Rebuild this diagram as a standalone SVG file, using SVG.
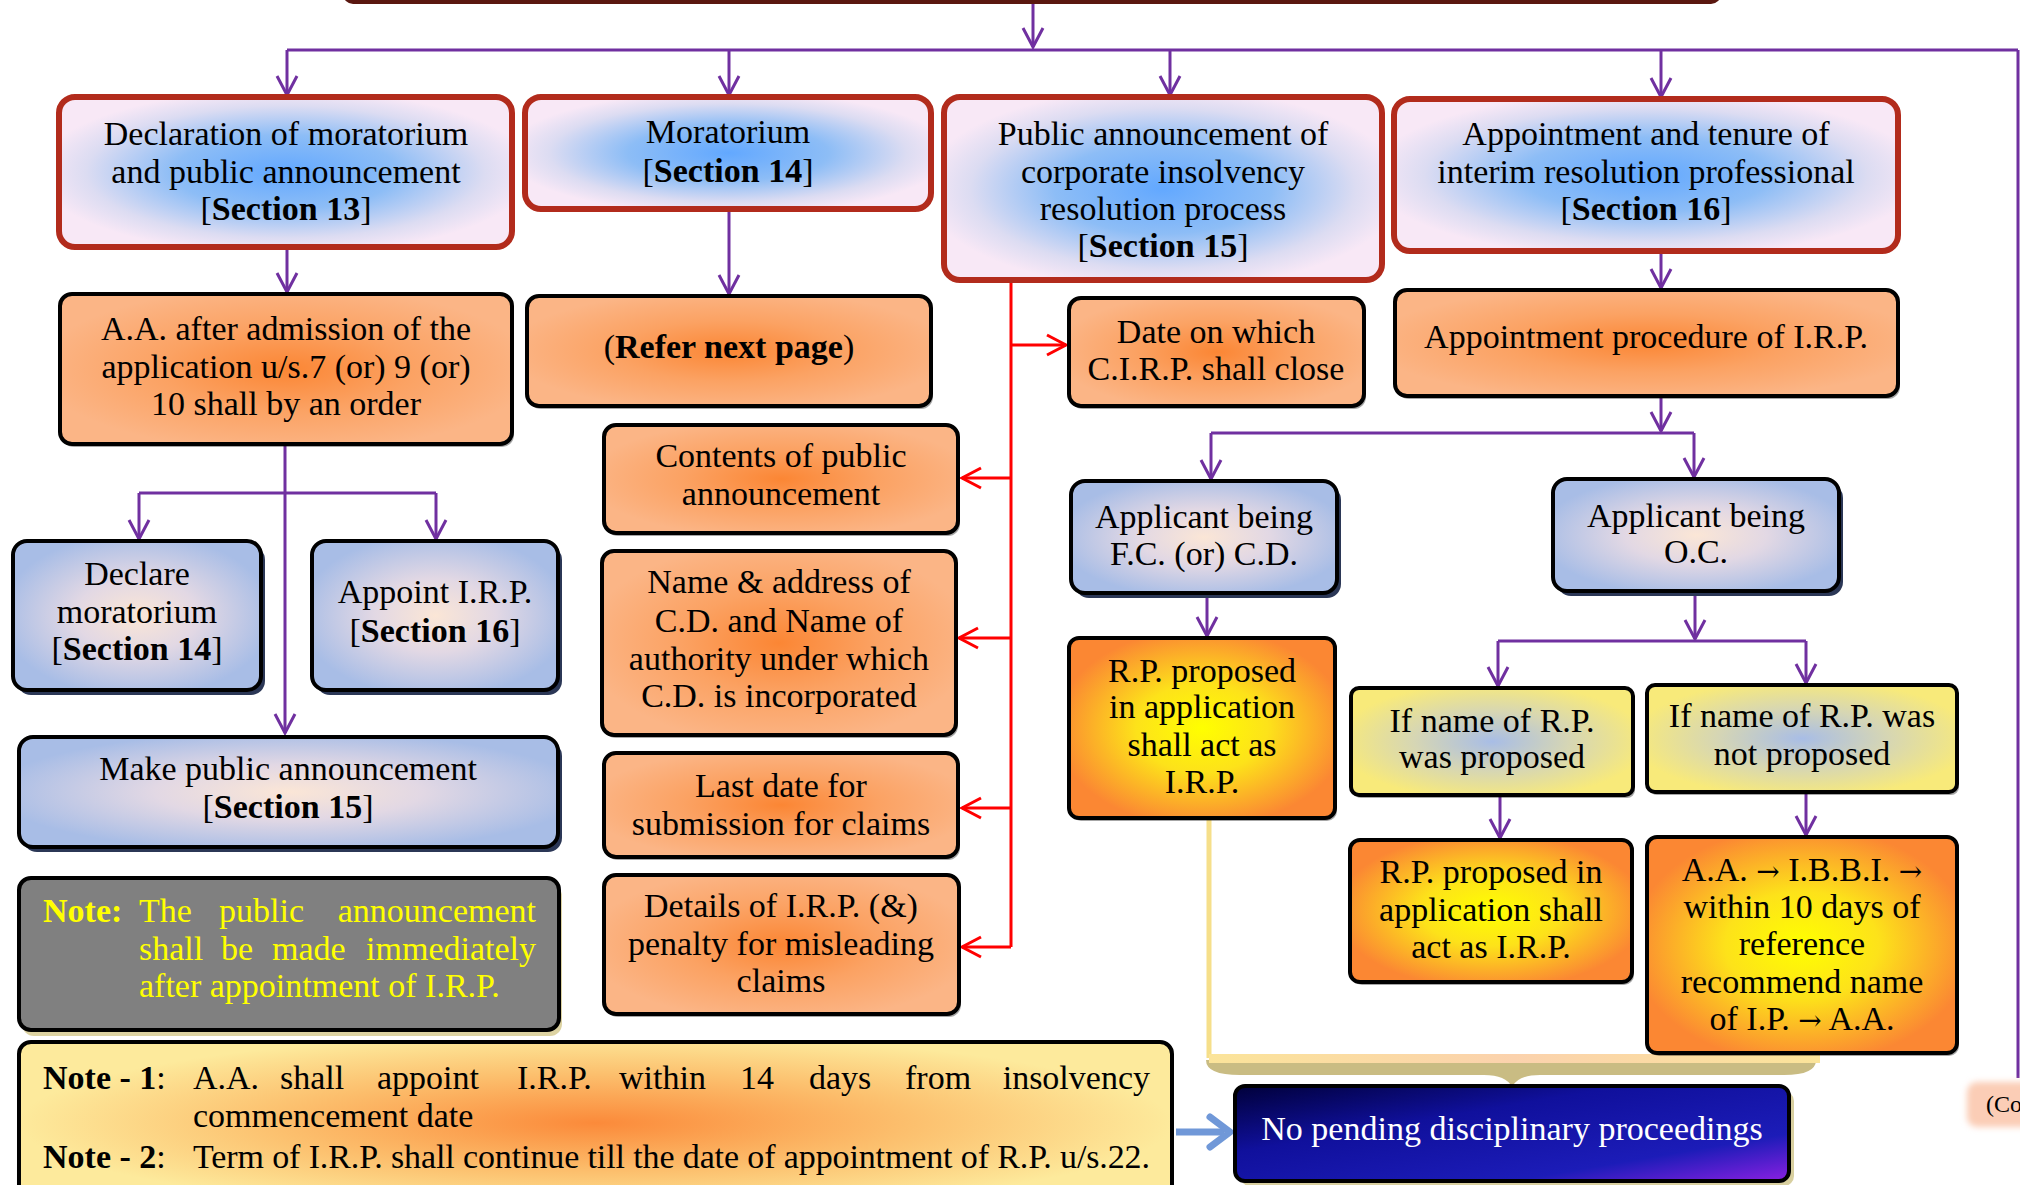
<svg xmlns="http://www.w3.org/2000/svg" width="2020" height="1185" viewBox="0 0 2020 1185">
  <defs>
    <style>
      .t { font-family: "Liberation Serif", "Times New Roman", serif; font-size: 34px; text-anchor: middle; fill: #000; }
      .s { text-anchor: start; }
      .e { text-anchor: end; }
      .b { font-weight: bold; }
      .ar { font-family: "DejaVu Serif", serif; font-size: 28px; }
      .yl { fill: #ffff00; }
      .wh { fill: #ffffff; }
      .red { stroke: #b22b1c; stroke-width: 6; }
      .blk { stroke: #000; stroke-width: 4; }
      .pc { stroke: #7030a0; stroke-width: 3; fill: none; }
      .rc { stroke: #ff0000; stroke-width: 3; fill: none; }
      .sh { fill: #000; opacity: 0.35; }
      .shb { fill: #2b3756; }
    </style>
    <radialGradient id="gRed" cx="50%" cy="50%" r="55%">
      <stop offset="0" stop-color="#62a8ff"/>
      <stop offset="0.45" stop-color="#8dbdf6"/>
      <stop offset="0.8" stop-color="#dcdcf2"/>
      <stop offset="1" stop-color="#f8e8f6"/>
    </radialGradient>
    <radialGradient id="gOr" cx="50%" cy="50%" r="55%">
      <stop offset="0" stop-color="#fb8634"/>
      <stop offset="0.5" stop-color="#fba263"/>
      <stop offset="1" stop-color="#fbb586"/>
    </radialGradient>
    <radialGradient id="gBl" cx="50%" cy="50%" r="55%">
      <stop offset="0" stop-color="#fbe6d6"/>
      <stop offset="0.45" stop-color="#e2d8e4"/>
      <stop offset="1" stop-color="#a8bde6"/>
    </radialGradient>
    <radialGradient id="gYe" cx="50%" cy="50%" r="55%">
      <stop offset="0" stop-color="#a8bde6"/>
      <stop offset="0.5" stop-color="#d6d6b4"/>
      <stop offset="1" stop-color="#f8ea7a"/>
    </radialGradient>
    <radialGradient id="gBr" cx="50%" cy="50%" r="55%">
      <stop offset="0" stop-color="#ffff00"/>
      <stop offset="0.45" stop-color="#fde21a"/>
      <stop offset="1" stop-color="#fb8733"/>
    </radialGradient>
    <radialGradient id="gNote" cx="50%" cy="45%" r="50%">
      <stop offset="0" stop-color="#fb8a3a"/>
      <stop offset="0.55" stop-color="#fcc06e"/>
      <stop offset="1" stop-color="#fdea9c"/>
    </radialGradient>
    <linearGradient id="gNav" x1="0" y1="0" x2="1" y2="1">
      <stop offset="0" stop-color="#00003a"/>
      <stop offset="0.35" stop-color="#10109c"/>
      <stop offset="0.75" stop-color="#1c1cb8"/>
      <stop offset="1" stop-color="#8a20e2"/>
    </linearGradient>
    <linearGradient id="gBand" x1="0" y1="0" x2="1" y2="0">
      <stop offset="0" stop-color="#fbe49a"/>
      <stop offset="0.5" stop-color="#fbd2ad"/>
      <stop offset="1" stop-color="#fbe49a"/>
    </linearGradient>
    <filter id="soft" x="-20%" y="-30%" width="140%" height="160%">
      <feGaussianBlur stdDeviation="3"/>
    </filter>
    <marker id="ahP" markerUnits="userSpaceOnUse" markerWidth="26" markerHeight="26" viewBox="0 0 26 26" refX="22" refY="13" orient="auto">
      <path d="M3,3 L22,13 L3,23" fill="none" stroke="#7030a0" stroke-width="3"/>
    </marker>
    <marker id="ahR" markerUnits="userSpaceOnUse" markerWidth="26" markerHeight="26" viewBox="0 0 26 26" refX="22" refY="13" orient="auto">
      <path d="M3,3 L22,13 L3,23" fill="none" stroke="#ff0000" stroke-width="3"/>
    </marker>
  </defs>

  <rect width="2020" height="1185" fill="#ffffff"/>

  <!-- header strip at the very top -->
  <g id="header">
    <rect x="343" y="-30" width="1378" height="34" rx="10" fill="#5a1710"/>
  </g>

  <!-- connectors -->
  <g id="connectors">
    <path class="pc" d="M1033,4 V47" marker-end="url(#ahP)"/>
    <path class="pc" d="M287,50 H2018" stroke-width="4"/>
    <path class="pc" d="M2018,50 V1078" stroke-width="2"/>
    <path class="pc" d="M287,50 V95" marker-end="url(#ahP)"/>
    <path class="pc" d="M729,50 V95" marker-end="url(#ahP)"/>
    <path class="pc" d="M1170,50 V95" marker-end="url(#ahP)"/>
    <path class="pc" d="M1661,50 V97" marker-end="url(#ahP)"/>
    <path class="pc" d="M287,247 V292" marker-end="url(#ahP)"/>
    <path class="pc" d="M729,209 V294" marker-end="url(#ahP)"/>
    <path class="pc" d="M1661,251 V288" marker-end="url(#ahP)"/>
    <path class="pc" d="M1661,396 V431" marker-end="url(#ahP)"/>
    <path class="pc" d="M1211,433 H1694"/>
    <path class="pc" d="M1211,433 V479" marker-end="url(#ahP)"/>
    <path class="pc" d="M1694,433 V477" marker-end="url(#ahP)"/>
    <path class="pc" d="M285,444 V733" marker-end="url(#ahP)"/>
    <path class="pc" d="M139,493 H436"/>
    <path class="pc" d="M139,493 V539" marker-end="url(#ahP)"/>
    <path class="pc" d="M436,493 V539" marker-end="url(#ahP)"/>
    <path class="pc" d="M1207,593 V636" marker-end="url(#ahP)"/>
    <path class="pc" d="M1695,591 V639" marker-end="url(#ahP)"/>
    <path class="pc" d="M1498,641 H1806"/>
    <path class="pc" d="M1498,641 V686" marker-end="url(#ahP)"/>
    <path class="pc" d="M1806,641 V683" marker-end="url(#ahP)"/>
    <path class="pc" d="M1500,795 V838" marker-end="url(#ahP)"/>
    <path class="pc" d="M1806,792 V835" marker-end="url(#ahP)"/>

    <path class="rc" d="M1011,280 V947"/>
    <path class="rc" d="M1011,345 H1066" marker-end="url(#ahR)"/>
    <path class="rc" d="M1011,478 H962" marker-end="url(#ahR)"/>
    <path class="rc" d="M1011,638 H959" marker-end="url(#ahR)"/>
    <path class="rc" d="M1011,808 H962" marker-end="url(#ahR)"/>
    <path class="rc" d="M1011,947 H962" marker-end="url(#ahR)"/>

    <!-- pale bracket joining the I.R.P. outcomes -->
    <path d="M1209,818 V1058" stroke="#f6df8a" stroke-width="5" fill="none"/>
    <path d="M1206,1060 Q1206,1075 1240,1075 L1484,1075 Q1506,1075 1512,1087 Q1518,1075 1540,1075 L1784,1075 Q1816,1075 1816,1060 Z" fill="#c9bc83"/>
    <rect x="1209" y="1054" width="611" height="9" fill="url(#gBand)"/>

    <!-- blue arrow from the notes -->
    <path d="M1176,1132 H1224" stroke="#7098d8" stroke-width="7" fill="none"/>
    <path d="M1210,1117 L1230,1132 L1210,1147" stroke="#7098d8" stroke-width="7" fill="none" stroke-linecap="round" stroke-linejoin="round"/>
  </g>

  <!-- section heads -->
  <g id="n-sec13">
    <rect class="red" x="59" y="97" width="453" height="150" rx="16" fill="url(#gRed)"/>
    <text class="t" x="286" y="145">Declaration of moratorium</text>
    <text class="t" x="286" y="183">and public announcement</text>
    <text class="t" x="286" y="220">[<tspan class="b">Section 13</tspan>]</text>
  </g>
  <g id="n-sec14">
    <rect class="red" x="525" y="97" width="406" height="112" rx="16" fill="url(#gRed)"/>
    <text class="t" x="728" y="143">Moratorium</text>
    <text class="t" x="728" y="182">[<tspan class="b">Section 14</tspan>]</text>
  </g>
  <g id="n-sec15">
    <rect class="red" x="944" y="97" width="438" height="183" rx="16" fill="url(#gRed)"/>
    <text class="t" x="1163" y="145">Public announcement of</text>
    <text class="t" x="1163" y="183">corporate insolvency</text>
    <text class="t" x="1163" y="220">resolution process</text>
    <text class="t" x="1163" y="257">[<tspan class="b">Section 15</tspan>]</text>
  </g>
  <g id="n-sec16">
    <rect class="red" x="1394" y="99" width="504" height="152" rx="16" fill="url(#gRed)"/>
    <text class="t" x="1646" y="145">Appointment and tenure of</text>
    <text class="t" x="1646" y="183">interim resolution professional</text>
    <text class="t" x="1646" y="220">[<tspan class="b">Section 16</tspan>]</text>
  </g>

  <!-- second row -->
  <g id="n-order">
    <rect class="sh" x="62" y="297" width="452" height="150" rx="12"/>
    <rect class="blk" x="60" y="294" width="452" height="150" rx="12" fill="url(#gOr)"/>
    <text class="t" x="286" y="340">A.A. after admission of the</text>
    <text class="t" x="286" y="378">application u/s.7 (or) 9 (or)</text>
    <text class="t" x="286" y="415">10 shall by an order</text>
  </g>
  <g id="n-refer">
    <rect class="sh" x="529" y="299" width="404" height="110" rx="12"/>
    <rect class="blk" x="527" y="296" width="404" height="110" rx="12" fill="url(#gOr)"/>
    <text class="t" x="729" y="358">(<tspan class="b">Refer next page</tspan>)</text>
  </g>
  <g id="n-close">
    <rect class="sh" x="1071" y="301" width="295" height="108" rx="12"/>
    <rect class="blk" x="1069" y="298" width="295" height="108" rx="12" fill="url(#gOr)"/>
    <text class="t" x="1216" y="343">Date on which</text>
    <text class="t" x="1216" y="380">C.I.R.P. shall close</text>
  </g>
  <g id="n-procedure">
    <rect class="sh" x="1397" y="293" width="503" height="106" rx="12"/>
    <rect class="blk" x="1395" y="290" width="503" height="106" rx="12" fill="url(#gOr)"/>
    <text class="t" x="1646" y="348">Appointment procedure of I.R.P.</text>
  </g>

  <!-- contents of the public announcement -->
  <g id="n-contents">
    <rect class="sh" x="606" y="428" width="354" height="108" rx="12"/>
    <rect class="blk" x="604" y="425" width="354" height="108" rx="12" fill="url(#gOr)"/>
    <text class="t" x="781" y="467">Contents of public</text>
    <text class="t" x="781" y="505">announcement</text>
  </g>
  <g id="n-name">
    <rect class="sh" x="604" y="554" width="354" height="184" rx="12"/>
    <rect class="blk" x="602" y="551" width="354" height="184" rx="12" fill="url(#gOr)"/>
    <text class="t" x="779" y="593">Name &amp; address of</text>
    <text class="t" x="779" y="632">C.D. and Name of</text>
    <text class="t" x="779" y="670">authority under which</text>
    <text class="t" x="779" y="707">C.D. is incorporated</text>
  </g>
  <g id="n-lastdate">
    <rect class="sh" x="606" y="756" width="354" height="104" rx="12"/>
    <rect class="blk" x="604" y="753" width="354" height="104" rx="12" fill="url(#gOr)"/>
    <text class="t" x="781" y="797">Last date for</text>
    <text class="t" x="781" y="835">submission for claims</text>
  </g>
  <g id="n-details">
    <rect class="sh" x="606" y="878" width="355" height="139" rx="12"/>
    <rect class="blk" x="604" y="875" width="355" height="139" rx="12" fill="url(#gOr)"/>
    <text class="t" x="781" y="917">Details of I.R.P. (&amp;)</text>
    <text class="t" x="781" y="955">penalty for misleading</text>
    <text class="t" x="781" y="992">claims</text>
  </g>

  <!-- orders of the adjudicating authority -->
  <g id="n-declare">
    <rect class="shb" x="17" y="546" width="248" height="149" rx="14"/>
    <rect class="blk" x="13" y="541" width="248" height="149" rx="14" fill="url(#gBl)"/>
    <text class="t" x="137" y="585">Declare</text>
    <text class="t" x="137" y="623">moratorium</text>
    <text class="t" x="137" y="660">[<tspan class="b">Section 14</tspan>]</text>
  </g>
  <g id="n-appoint">
    <rect class="shb" x="316" y="546" width="246" height="149" rx="14"/>
    <rect class="blk" x="312" y="541" width="246" height="149" rx="14" fill="url(#gBl)"/>
    <text class="t" x="435" y="603">Appoint I.R.P.</text>
    <text class="t" x="435" y="642">[<tspan class="b">Section 16</tspan>]</text>
  </g>
  <g id="n-make">
    <rect class="shb" x="23" y="742" width="539" height="110" rx="14"/>
    <rect class="blk" x="19" y="737" width="539" height="110" rx="14" fill="url(#gBl)"/>
    <text class="t" x="288" y="780">Make public announcement</text>
    <text class="t" x="288" y="818">[<tspan class="b">Section 15</tspan>]</text>
  </g>

  <!-- grey note -->
  <g id="n-note">
    <rect x="22" y="884" width="540" height="152" rx="12" fill="#ddd3a2"/>
    <rect class="blk" x="19" y="878" width="540" height="152" rx="12" fill="#808080"/>
    <text class="t s b yl" x="43" y="922">Note:</text>
    <text class="t s yl" x="139" y="922">The</text>
    <text class="t s yl" x="219" y="922">public</text>
    <text class="t e yl" x="536" y="922">announcement</text>
    <text class="t s yl" x="139" y="960">shall</text>
    <text class="t s yl" x="221" y="960">be</text>
    <text class="t s yl" x="272" y="960">made</text>
    <text class="t e yl" x="536" y="960">immediately</text>
    <text class="t s yl" x="139" y="997">after appointment of I.R.P.</text>
  </g>

  <!-- notes 1 and 2 -->
  <g id="n-notes12">
    <rect class="blk" x="19" y="1042" width="1153" height="180" rx="12" fill="url(#gNote)"/>
    <text class="t s" x="43" y="1089"><tspan class="b">Note - 1</tspan>:</text>
    <text class="t s" x="193" y="1089">A.A.</text>
    <text class="t s" x="280" y="1089">shall</text>
    <text class="t s" x="377" y="1089">appoint</text>
    <text class="t s" x="517" y="1089">I.R.P.</text>
    <text class="t s" x="619" y="1089">within</text>
    <text class="t s" x="740" y="1089">14</text>
    <text class="t s" x="809" y="1089">days</text>
    <text class="t s" x="905" y="1089">from</text>
    <text class="t e" x="1150" y="1089">insolvency</text>
    <text class="t s" x="193" y="1127">commencement date</text>
    <text class="t s" x="43" y="1168"><tspan class="b">Note - 2</tspan>:</text>
    <text class="t s" x="193" y="1168" textLength="957" lengthAdjust="spacing">Term of I.R.P. shall continue till the date of appointment of R.P. u/s.22.</text>
  </g>

  <!-- appointment procedure branches -->
  <g id="n-fc">
    <rect class="shb" x="1075" y="486" width="266" height="112" rx="14"/>
    <rect class="blk" x="1071" y="481" width="266" height="112" rx="14" fill="url(#gBl)"/>
    <text class="t" x="1204" y="528">Applicant being</text>
    <text class="t" x="1204" y="565">F.C. (or) C.D.</text>
  </g>
  <g id="n-oc">
    <rect class="shb" x="1557" y="484" width="286" height="112" rx="14"/>
    <rect class="blk" x="1553" y="479" width="286" height="112" rx="14" fill="url(#gBl)"/>
    <text class="t" x="1696" y="527">Applicant being</text>
    <text class="t" x="1696" y="563">O.C.</text>
  </g>
  <g id="n-rp-fc">
    <rect class="sh" x="1071" y="641" width="266" height="180" rx="10"/>
    <rect class="blk" x="1069" y="638" width="266" height="180" rx="10" fill="url(#gBr)"/>
    <text class="t" x="1202" y="682">R.P. proposed</text>
    <text class="t" x="1202" y="718">in application</text>
    <text class="t" x="1202" y="756">shall act as</text>
    <text class="t" x="1202" y="793">I.R.P.</text>
  </g>
  <g id="n-proposed">
    <rect class="sh" x="1353" y="691" width="282" height="107" rx="8"/>
    <rect class="blk" x="1351" y="688" width="282" height="107" rx="8" fill="url(#gYe)"/>
    <text class="t" x="1492" y="732">If name of R.P.</text>
    <text class="t" x="1492" y="768">was proposed</text>
  </g>
  <g id="n-notproposed">
    <rect class="sh" x="1649" y="688" width="310" height="107" rx="8"/>
    <rect class="blk" x="1647" y="685" width="310" height="107" rx="8" fill="url(#gYe)"/>
    <text class="t" x="1802" y="727">If name of R.P. was</text>
    <text class="t" x="1802" y="765">not proposed</text>
  </g>
  <g id="n-rp-oc">
    <rect class="sh" x="1352" y="843" width="282" height="142" rx="10"/>
    <rect class="blk" x="1350" y="840" width="282" height="142" rx="10" fill="url(#gBr)"/>
    <text class="t" x="1491" y="883">R.P. proposed in</text>
    <text class="t" x="1491" y="921">application shall</text>
    <text class="t" x="1491" y="958">act as I.R.P.</text>
  </g>
  <g id="n-ibbi">
    <rect class="sh" x="1649" y="840" width="310" height="216" rx="10"/>
    <rect class="blk" x="1647" y="837" width="310" height="216" rx="10" fill="url(#gBr)"/>
    <text class="t" x="1802" y="881">A.A. <tspan class="ar">→</tspan> I.B.B.I. <tspan class="ar">→</tspan></text>
    <text class="t" x="1802" y="918">within 10 days of</text>
    <text class="t" x="1802" y="955">reference</text>
    <text class="t" x="1802" y="993">recommend name</text>
    <text class="t" x="1802" y="1030">of I.P. <tspan class="ar">→</tspan> A.A.</text>
  </g>

  <!-- eligibility condition -->
  <g id="n-pending">
    <rect x="1240" y="1091" width="554" height="95" rx="10" fill="#d8cf9f"/>
    <rect class="blk" x="1235" y="1086" width="554" height="95" rx="10" fill="url(#gNav)"/>
    <text class="t wh" x="1512" y="1140">No pending disciplinary proceedings</text>
  </g>

  <!-- continuation tag -->
  <g id="n-cont">
    <rect x="1967" y="1082" width="70" height="45" rx="10" fill="#fbcdb6" filter="url(#soft)"/>
    <text class="t s" x="1986" y="1112" style="font-size:24px">(Co</text>
  </g>
</svg>
